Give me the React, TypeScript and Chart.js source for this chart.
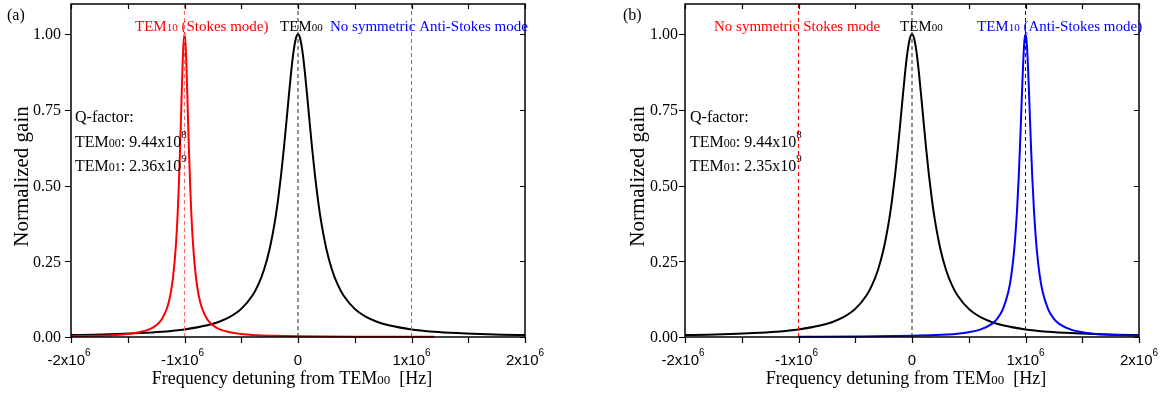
import React, { useEffect, useRef } from 'react';
import { Chart, registerables } from 'chart.js';

Chart.register(...registerables);

// ---------- axis definitions ----------
const xMin = -2e6;
const xMax = 2e6;
const yMin = 0;
const yMax = 1.1;
const xMajorTicks = [-2e6, -1e6, 0, 1e6, 2e6];
const xTickMantissa = ['-2', '-1', '0', '1', '2'];
const xTickExponent = '6';
const xMinorTicks = [-1.5e6, -0.5e6, 0.5e6, 1.5e6];
const yTicks = [0, 0.25, 0.5, 0.75, 1];
const yTickLabels = ['0.00', '0.25', '0.50', '0.75', '1.00'];

// ---------- data ----------
// TEM00 gain profile (both panels)
const tem00X = [
  -2e6, -1.8e6, -1.6e6, -1.4e6, -1.2e6, -1e6, -0.8e6, -0.7e6, -0.6e6, -0.5e6, -0.4e6, -0.35e6,
  -0.3e6, -0.25e6, -0.2e6, -0.175e6, -0.15e6, -0.125e6, -0.1e6, -0.08e6, -0.06e6, -0.04e6, -0.02e6,
  0,
  0.02e6, 0.04e6, 0.06e6, 0.08e6, 0.1e6, 0.125e6, 0.15e6, 0.175e6, 0.2e6, 0.25e6, 0.3e6, 0.35e6,
  0.4e6, 0.5e6, 0.6e6, 0.7e6, 0.8e6, 1e6, 1.2e6, 1.4e6, 1.6e6, 1.8e6, 2e6,
];
const tem00Y = [
  0.0064, 0.0078, 0.0099, 0.0129, 0.0175, 0.025, 0.0385, 0.0497, 0.0664, 0.0929, 0.1379, 0.1729,
  0.2215, 0.2906, 0.3902, 0.4553, 0.5322, 0.621, 0.7191, 0.8, 0.8767, 0.9412, 0.9846,
  1,
  0.9846, 0.9412, 0.8767, 0.8, 0.7191, 0.621, 0.5322, 0.4553, 0.3902, 0.2906, 0.2215, 0.1729,
  0.1379, 0.0929, 0.0664, 0.0497, 0.0385, 0.025, 0.0175, 0.0129, 0.0099, 0.0078, 0.0064,
];

// TEM10 Stokes mode (panel a)
const stokesX = [
  -2e6, -1.8e6, -1.6e6, -1.5e6, -1.4e6, -1.3e6, -1.25e6, -1.2e6, -1.15e6, -1.125e6, -1.1e6, -1.075e6,
  -1.06e6, -1.05e6, -1.04e6, -1.03e6, -1.02e6, -1.01e6,
  -1e6,
  -0.99e6, -0.98e6, -0.97e6, -0.96e6, -0.95e6, -0.94e6, -0.925e6, -0.9e6, -0.875e6, -0.85e6, -0.8e6,
  -0.75e6, -0.7e6, -0.6e6, -0.5e6, -0.4e6, -0.2e6, 0, 0.5e6, 1.2e6,
];
const stokesY = [
  0.0025, 0.0039, 0.0069, 0.0099, 0.0154, 0.027, 0.0385, 0.0588, 0.1, 0.1379, 0.2, 0.3077,
  0.4098, 0.5, 0.6098, 0.7353, 0.8621, 0.9615,
  1,
  0.9615, 0.8621, 0.7353, 0.6098, 0.5, 0.4098, 0.3077, 0.2, 0.1379, 0.1, 0.0588,
  0.0385, 0.027, 0.0154, 0.0099, 0.0069, 0.0039, 0.0025, 0.0011, 0.0005,
];

// TEM10 Anti-Stokes mode (panel b)
const antiStokesX = [
  -1e6, -0.5e6, 0, 0.2e6, 0.4e6, 0.5e6, 0.6e6, 0.7e6, 0.75e6, 0.8e6, 0.85e6, 0.875e6, 0.9e6,
  0.925e6, 0.94e6, 0.95e6, 0.96e6, 0.97e6, 0.98e6, 0.99e6,
  1e6,
  1.01e6, 1.02e6, 1.03e6, 1.04e6, 1.05e6, 1.06e6, 1.075e6, 1.1e6, 1.125e6, 1.15e6, 1.2e6, 1.25e6,
  1.3e6, 1.4e6, 1.5e6, 1.6e6, 1.8e6, 2e6,
];
const antiStokesY = [
  0.001, 0.0018, 0.004, 0.0062, 0.011, 0.0157, 0.0244, 0.0426, 0.0602, 0.0909, 0.1509, 0.2038, 0.2857,
  0.4156, 0.5263, 0.6154, 0.7143, 0.8163, 0.9091, 0.9756,
  1,
  0.9756, 0.9091, 0.8163, 0.7143, 0.6154, 0.5263, 0.4156, 0.2857, 0.2038, 0.1509, 0.0909, 0.0602,
  0.0426, 0.0244, 0.0157, 0.011, 0.0062, 0.004,
];

// mode positions (vertical dashed markers)
const stokesPos = -1e6;
const tem00Pos = 0;
const antiStokesPos = 1e6;

// ---------- fonts ----------
const SERIF = '"Liberation Serif", "Times New Roman", serif';
const SANS = '"Liberation Sans", Arial, sans-serif';

type Seg = { t: string; size: number; dy?: number; family?: string };

function segWidth(ctx: CanvasRenderingContext2D, segs: Seg[]) {
  let w = 0;
  for (const s of segs) {
    ctx.font = `${s.size}px ${s.family || SERIF}`;
    w += ctx.measureText(s.t).width;
  }
  return w;
}

function drawRich(
  ctx: CanvasRenderingContext2D,
  segs: Seg[],
  x: number,
  y: number,
  color: string,
  align: 'left' | 'center' | 'right' = 'left'
) {
  const w = segWidth(ctx, segs);
  let cx = align === 'left' ? x : align === 'center' ? x - w / 2 : x - w;
  ctx.save();
  ctx.fillStyle = color;
  ctx.textAlign = 'left';
  ctx.textBaseline = 'alphabetic';
  for (const s of segs) {
    ctx.font = `${s.size}px ${s.family || SERIF}`;
    ctx.fillText(s.t, cx, y + (s.dy || 0));
    cx += ctx.measureText(s.t).width;
  }
  ctx.restore();
}

type Note = { segs: Seg[]; x: number; y: number; color: string };

type PanelCfg = {
  left: number;
  width: number;
  padding: { left: number; right: number; top: number; bottom: number };
  letter: string;
  letterX: number;
  yTitleX: number;
  yTickRight: number;
  notes: Note[];
  datasets: any[];
};

const TEMsub = (sub: string, color?: string): Seg[] => [
  { t: 'TEM', size: 15 },
  { t: sub, size: 11 },
];

function makeDecor(cfg: PanelCfg) {
  return {
    id: 'decor-' + cfg.letter,
    afterDraw(chart: any) {
      const ctx: CanvasRenderingContext2D = chart.ctx;
      const { left, right, top, bottom } = chart.chartArea;
      const xs = chart.scales.x;
      const ys = chart.scales.y;
      ctx.save();
      ctx.strokeStyle = '#000';
      ctx.lineWidth = 1.5;
      // frame
      ctx.strokeRect(left, top, right - left, bottom - top);
      // x ticks (bottom outward, top inward)
      ctx.lineWidth = 1.2;
      ctx.beginPath();
      for (const v of [...xMajorTicks, ...xMinorTicks]) {
        const px = Math.round(xs.getPixelForValue(v)) + 0.5;
        ctx.moveTo(px, bottom);
        ctx.lineTo(px, bottom + 6);
        ctx.moveTo(px, top);
        ctx.lineTo(px, top + 5);
      }
      for (const v of yTicks) {
        const py = Math.round(ys.getPixelForValue(v)) + 0.5;
        ctx.moveTo(left, py);
        ctx.lineTo(left - 6, py);
        ctx.moveTo(right, py);
        ctx.lineTo(right - 5, py);
      }
      ctx.stroke();
      ctx.restore();

      // y tick labels
      ctx.save();
      ctx.fillStyle = '#000';
      ctx.font = `16px ${SERIF}`;
      ctx.textAlign = 'right';
      ctx.textBaseline = 'middle';
      yTicks.forEach((v, i) => {
        ctx.fillText(yTickLabels[i], cfg.yTickRight, ys.getPixelForValue(v) + 1);
      });
      ctx.restore();

      // x tick labels
      xMajorTicks.forEach((v, i) => {
        const px = xs.getPixelForValue(v);
        const m = xTickMantissa[i];
        const segs: Seg[] =
          m === '0'
            ? [{ t: '0', size: 15, family: SANS }]
            : [
                { t: m + 'x10', size: 15, family: SANS },
                { t: xTickExponent, size: 10, dy: -9, family: SANS },
              ];
        drawRich(ctx, segs, px - (m.startsWith('-') ? 2 : 0), bottom + 28, '#000', 'center');
      });

      // x title
      drawRich(
        ctx,
        [
          { t: 'Frequency detuning from TEM', size: 18 },
          { t: '00', size: 13 },
          { t: '  [Hz]', size: 18 },
        ],
        (left + right) / 2 - 6,
        bottom + 47,
        '#000',
        'center'
      );

      // y title
      ctx.save();
      ctx.translate(cfg.yTitleX, (top + bottom) / 2 + 6);
      ctx.rotate(-Math.PI / 2);
      ctx.fillStyle = '#000';
      ctx.font = `21px ${SERIF}`;
      ctx.textAlign = 'center';
      ctx.textBaseline = 'middle';
      ctx.fillText('Normalized gain', 0, 0);
      ctx.restore();

      // panel letter
      drawRich(ctx, [{ t: cfg.letter, size: 16 }], cfg.letterX, 20, '#000', 'left');

      // annotations
      for (const n of cfg.notes) drawRich(ctx, n.segs, n.x, n.y, n.color, 'left');
    },
  };
}

function vline(x: number, color: string) {
  return {
    data: [
      { x, y: yMin },
      { x, y: yMax },
    ],
    borderColor: color,
    borderWidth: 1,
    borderDash: [4, 3],
    pointRadius: 0,
    fill: false,
  };
}

function curve(xsArr: number[], ysArr: number[], color: string) {
  return {
    data: xsArr.map((x, i) => ({ x, y: ysArr[i] })),
    borderColor: color,
    borderWidth: 2,
    pointRadius: 0,
    fill: false,
    cubicInterpolationMode: 'monotone',
    clip: 4,
  };
}

const qNotes = (x: number, q01: string): Note[] => [
  { segs: [{ t: 'Q-factor:', size: 16 }], x, y: 122, color: '#000' },
  {
    segs: [
      { t: 'TEM', size: 16 },
      { t: '00', size: 12 },
      { t: ': 9.44x10', size: 16 },
      { t: '8', size: 11, dy: -9 },
    ],
    x,
    y: 147,
    color: '#000',
  },
  {
    segs: [
      { t: 'TEM', size: 16 },
      { t: '01', size: 12 },
      { t: ': ' + q01 + 'x10', size: 16 },
      { t: '9', size: 11, dy: -9 },
    ],
    x,
    y: 171,
    color: '#000',
  },
];

const panelA: PanelCfg = {
  left: 0,
  width: 585,
  padding: { left: 71, right: 60, top: 4, bottom: 56 },
  letter: '(a)',
  letterX: 7,
  yTitleX: 22,
  yTickRight: 61,
  notes: [
    { segs: [...TEMsub('10'), { t: ' (Stokes mode)', size: 15 }], x: 135, y: 31, color: '#ff0000' },
    { segs: TEMsub('00'), x: 280, y: 31, color: '#000' },
    { segs: [{ t: 'No symmetric Anti-Stokes mode', size: 15 }], x: 330, y: 31, color: '#0000ff' },
    ...qNotes(75, '2.36'),
  ],
  datasets: [
    vline(tem00Pos, '#222222'),
    vline(stokesPos, '#ff6666'),
    vline(antiStokesPos, '#6666ff'),
    curve(stokesX, stokesY, '#ff0000'),
    curve(tem00X, tem00Y, '#000000'),
  ],
};

const panelB: PanelCfg = {
  left: 585,
  width: 586,
  padding: { left: 100, right: 32, top: 4, bottom: 56 },
  letter: '(b)',
  letterX: 38,
  yTitleX: 53,
  yTickRight: 93,
  notes: [
    { segs: [{ t: 'No symmetric Stokes mode', size: 15 }], x: 129, y: 31, color: '#ff0000' },
    { segs: TEMsub('00'), x: 315, y: 31, color: '#000' },
    { segs: [...TEMsub('10'), { t: ' (Anti-Stokes mode)', size: 15 }], x: 392, y: 31, color: '#0000ff' },
    ...qNotes(105, '2.35'),
  ],
  datasets: [
    vline(tem00Pos, '#222222'),
    vline(stokesPos, '#ff0000'),
    vline(antiStokesPos, '#0000ff'),
    curve(antiStokesX, antiStokesY, '#0000ff'),
    curve(tem00X, tem00Y, '#000000'),
  ],
};

function Panel({ cfg }: { cfg: PanelCfg }) {
  const ref = useRef<HTMLCanvasElement>(null);
  useEffect(() => {
    if (!ref.current) return;
    const chart = new Chart(ref.current, {
      type: 'line',
      data: { datasets: cfg.datasets },
      options: {
        responsive: false,
        animation: false,
        events: [],
        layout: { padding: cfg.padding },
        scales: {
          x: { type: 'linear', min: xMin, max: xMax, display: false },
          y: { type: 'linear', min: yMin, max: yMax, display: false },
        },
        plugins: { legend: { display: false }, tooltip: { enabled: false } },
      } as any,
      plugins: [makeDecor(cfg)],
    });
    return () => chart.destroy();
  }, []);
  return (
    <canvas
      ref={ref}
      width={cfg.width}
      height={393}
      style={{ position: 'absolute', left: cfg.left, top: 0, width: cfg.width, height: 393, display: 'block' }}
    />
  );
}

export default function App() {
  return (
    <div style={{ position: 'absolute', left: 0, top: 0, width: 1171, height: 393, background: '#fff' }}>
      <Panel cfg={panelA} />
      <Panel cfg={panelB} />
    </div>
  );
}
